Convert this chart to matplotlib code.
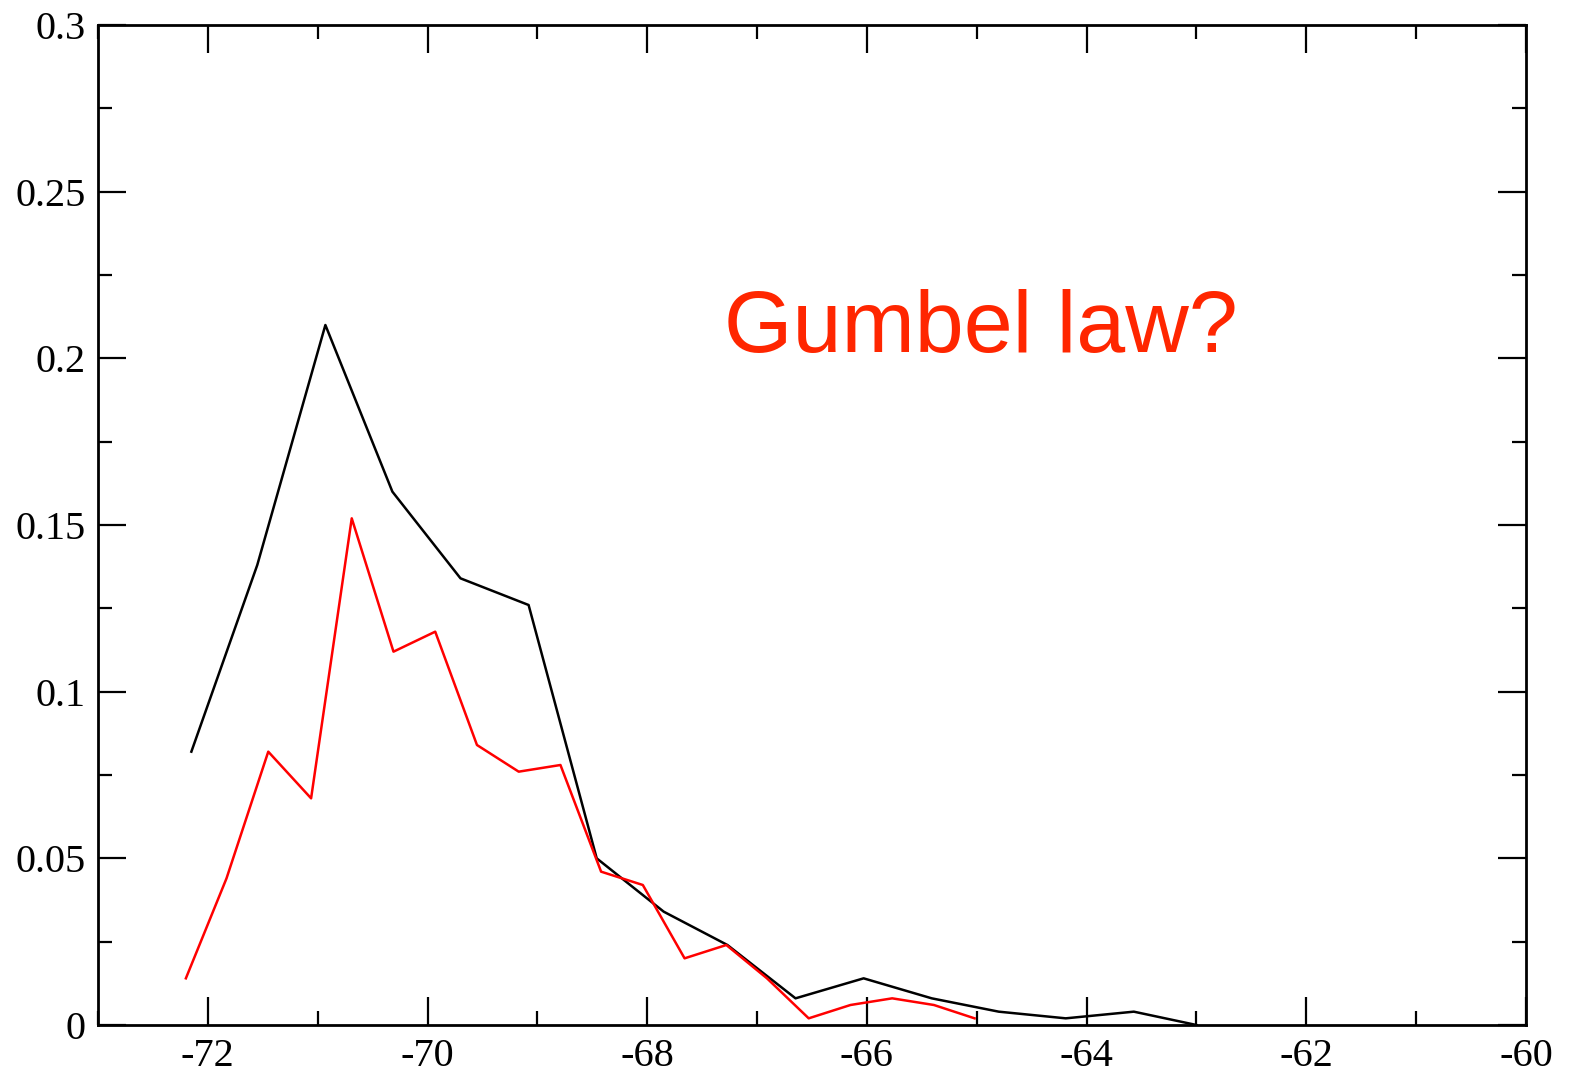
import matplotlib
matplotlib.use("Agg")
import matplotlib.pyplot as plt
from matplotlib.ticker import MultipleLocator

black_x = [-72.15, -71.55, -70.93, -70.32, -69.70, -69.08, -68.46, -67.85,
           -67.27, -66.65, -66.03, -65.41, -64.80, -64.19, -63.57, -63.00]
black_y = [0.082, 0.138, 0.210, 0.160, 0.134, 0.126, 0.050, 0.034,
           0.024, 0.008, 0.014, 0.008, 0.004, 0.002, 0.004, 0.0]

red_x = [-72.20, -71.83, -71.45, -71.06, -70.69, -70.31, -69.93, -69.55,
         -69.17, -68.79, -68.42, -68.04, -67.66, -67.28, -66.91, -66.53,
         -66.15, -65.77, -65.39, -65.02]
red_y = [0.014, 0.044, 0.082, 0.068, 0.152, 0.112, 0.118, 0.084,
         0.076, 0.078, 0.046, 0.042, 0.020, 0.024, 0.014, 0.002,
         0.006, 0.008, 0.006, 0.002]

x_ticks = [-72, -70, -68, -66, -64, -62, -60]
y_ticks = [0, 0.05, 0.1, 0.15, 0.2, 0.25, 0.3]
y_tick_labels = ["0", "0.05", "0.1", "0.15", "0.2", "0.25", "0.3"]

fig = plt.figure(figsize=(15.71, 10.73), dpi=100)
ax = fig.add_axes([98/1571, 48/1073, (1526-98)/1571, (1025-25)/1073])

ax.plot(black_x, black_y, color="black", lw=1.8)
ax.plot(red_x, red_y, color="#ff0000", lw=1.8)

ax.set_xlim(-73, -60)
ax.set_ylim(0, 0.3)
ax.set_xticks(x_ticks)
ax.set_xticklabels([str(t) for t in x_ticks])
ax.set_yticks(y_ticks)
ax.set_yticklabels(y_tick_labels)
ax.xaxis.set_minor_locator(MultipleLocator(1))
ax.yaxis.set_minor_locator(MultipleLocator(0.025))

for lab in ax.get_xticklabels() + ax.get_yticklabels():
    lab.set_fontfamily("Liberation Serif")
    lab.set_fontsize(29)

ax.tick_params(which="major", direction="in", length=20, width=1.6,
               top=True, right=True)
ax.tick_params(axis="y", which="major", pad=9)
ax.tick_params(axis="x", which="major", pad=9)
ax.tick_params(which="minor", direction="in", length=10, width=1.6,
               top=True, right=True)
for s in ax.spines.values():
    s.set_linewidth(2.0)

ax.text(-67.30, 0.2019, "Gumbel law?", color="#ff2600", fontsize=63.4,
        fontfamily="Liberation Sans", ha="left", va="baseline")

fig.savefig("out.png", dpi=100)
